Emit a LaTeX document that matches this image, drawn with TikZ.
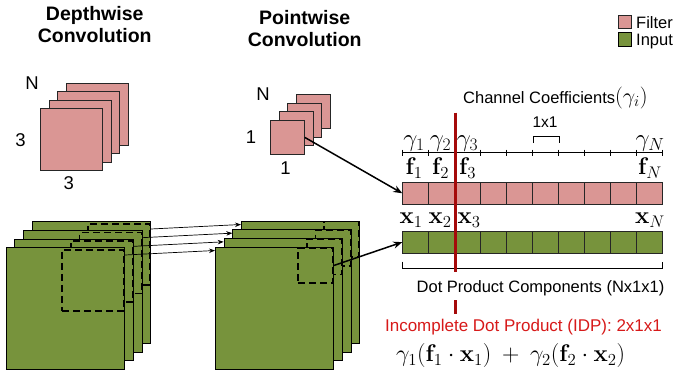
\RequirePackage{fix-cm}
\documentclass[tikz,border=0pt]{standalone}
\usepackage[no-math]{fontspec}
\setmainfont{Liberation Sans}
\usetikzlibrary{arrows.meta,calc}
\definecolor{filt}{RGB}{218,150,148}
\definecolor{inp}{RGB}{119,147,60}
\definecolor{idpline}{RGB}{165,10,10}
\definecolor{idptext}{RGB}{215,25,25}
\begin{document}
\begin{tikzpicture}[x=1pt,y=-1pt,
  filtsq/.style={draw=black!85, fill=filt, line width=0.8pt, inner sep=0, anchor=north west},
  inpsq/.style={draw=black, fill=inp, line width=0.8pt, inner sep=0, anchor=north west},
  cellf/.style={draw=black!85, fill=filt, line width=0.8pt, inner sep=0, minimum width=26pt, minimum height=22pt},
  celli/.style={draw=black!85, fill=inp, line width=0.8pt, inner sep=0, minimum width=26pt, minimum height=22.3pt},
  dashsq/.style={draw=black, dash pattern=on 7pt off 4pt, line width=1.8pt, inner sep=0, anchor=north east},
  lbl/.style={font=\fontsize{18.5}{22}\selectfont, inner sep=0},
  titletxt/.style={font=\fontsize{19.5}{23}\selectfont\bfseries, inner sep=0, anchor=base},
  txt/.style={font=\fontsize{16.5}{20}\selectfont, inner sep=0, anchor=base},
  gam/.style={font=\fontsize{25}{28}\selectfont, inner sep=0, anchor=base},
  vec/.style={font=\fontsize{24}{27}\selectfont, inner sep=0, anchor=base},
  formula/.style={font=\fontsize{24}{27}\selectfont, inner sep=0, anchor=base west},
  thinarrow/.style={-{Stealth[length=6pt,width=4.5pt]}, line width=0.7pt},
  bigarrow/.style={-{Stealth[length=9pt,width=7pt]}, line width=1.5pt},
  idp/.style={draw=idpline, line width=2.7pt}
]
\useasboundingbox (0,0) rectangle (675,375);

% titles
\node[titletxt] (t1a) at (94.7,20) {Depthwise};
\node[titletxt] (t1b) at (94.7,42.3) {Convolution};
\node[titletxt] (t2a) at (304.7,24.3) {Pointwise};
\node[titletxt] (t2b) at (304.7,46.7) {Convolution};

% legend
\node[filtsq, minimum width=12.7pt, minimum height=13.3pt] (lgf) at (618.3,15) {};
\node[inpsq, minimum width=12.7pt, minimum height=14pt] (lgi) at (618.3,31.7) {};
\node[txt, anchor=base west] (lgft) at (636,28.3) {Filter};
\node[txt, anchor=base west] (lgit) at (636,45.7) {Input};

% depthwise filters
\foreach \k in {3,2,1,0}{
  \node[filtsq, minimum width=62pt, minimum height=62pt] (dw\k) at (40+8.5*\k,108-8.5*\k) {};
}
\node[lbl] (dwN) at (32,82.7) {N};
\node[lbl] (dw3l) at (20.5,140) {3};
\node[lbl] (dw3b) at (68.7,183.3) {3};

% pointwise filters
\foreach \k in {3,2,1,0}{
  \node[filtsq, minimum width=34pt, minimum height=34pt] (pw\k) at (270+8.7*\k,120-8.7*\k) {};
}
\node[lbl] (pwN) at (263,94.2) {N};
\node[lbl] (pw1l) at (251,136.7) {1};
\node[lbl] (pw1b) at (285.5,167.8) {1};

% left input stack
\foreach \k in {3,2,1,0}{
  \node[inpsq, minimum width=118.6pt, minimum height=121.7pt] (L\k) at (5.7+8.67*\k,247.3-8.67*\k) {};
  \node[dashsq, minimum width=62pt, minimum height=61pt] (LD\k) at ([yshift=-1.7pt]L\k.north east) {};
}
% right input stack
\foreach \k in {3,2,1,0}{
  \node[inpsq, minimum width=118.3pt, minimum height=122.3pt] (R\k) at (215+8.67*\k,246.7-8.67*\k) {};
  \node[dashsq, minimum width=35pt, minimum height=35.6pt] (RD\k) at (R\k.north east) {};
}
% arrows between stacks
\foreach \k in {0,1,2,3}{
  \draw[thinarrow] ([yshift=-6pt]LD\k.north east) -- ([yshift=-3.8pt]R\k.north west);
}

% rows
\foreach \i in {1,...,10}{
  \node[cellf] (f\i) at (402.7+26*\i-13,193.3) {};
  \node[celli] (x\i) at (402.7+26*\i-13,242.15) {};
}

% axis with ticks
\draw[line width=0.7pt] (402.7,152.7) -- (662.7,152.7);
\foreach \i in {0,...,10}{
  \draw[line width=0.7pt] (402.7+26*\i,149.5) -- (402.7+26*\i,155.8);
}
\draw[line width=0.8pt] (533.7,143) -- (533.7,136.5) -- (559.7,136.5) -- (559.7,143);
\node[txt, font=\fontsize{15.5}{18}\selectfont] (onex) at (545,127.3) {1x1};

% bottom bracket
\draw[line width=0.8pt] (402.7,261.7) -- (402.7,268.3) -- (662.7,268.3) -- (662.7,261.7);

% labels on rows
\node[gam] (g1) at (414,146.5) {$\gamma_1$};
\node[gam] (g2) at (440.5,146.5) {$\gamma_2$};
\node[gam] (g3) at (467.5,146.5) {$\gamma_3$};
\node[gam] (gN) at (650,146.5) {$\gamma_N$};
\node[vec] (lf1) at (414,174.5) {$\mathbf{f}_1$};
\node[vec] (lf2) at (440.5,174.5) {$\mathbf{f}_2$};
\node[vec] (lf3) at (467.5,174.5) {$\mathbf{f}_3$};
\node[vec] (lfN) at (650,174.5) {$\mathbf{f}_N$};
\node[vec] (lx1) at (411,223.5) {$\mathbf{x}_1$};
\node[vec] (lx2) at (440,223.5) {$\mathbf{x}_2$};
\node[vec] (lx3) at (469,223.5) {$\mathbf{x}_3$};
\node[vec] (lxN) at (650,223.5) {$\mathbf{x}_N$};

% texts
\node[txt, anchor=base west] (chc) at (463,103.3) {Channel Coefficients{\fontsize{22}{25}\selectfont$(\gamma_i)$}};
\node[txt] (dpc) at (540.5,292.3) {Dot Product Components (Nx1x1)};
\node[txt, text=idptext, font=\fontsize{17}{20}\selectfont] (idpt) at (523.5,331.7) {Incomplete Dot Product (IDP): 2x1x1};
\node[formula] (form) at (396,361.5) {$\gamma_1(\mathbf{f}_1\cdot\mathbf{x}_1)\mskip4mu+\mskip4mu\gamma_2(\mathbf{f}_2\cdot\mathbf{x}_2)$};

% red IDP line
\draw[idp] (455.7,112.7) -- (455.7,271.7);
\draw[idp] (455.7,300) -- (455.7,314);

% big arrows
\draw[bigarrow] (pw0.east) -- (f1.west);
\draw[bigarrow] (RD0.east) -- (x1.west);
\end{tikzpicture}
\end{document}
